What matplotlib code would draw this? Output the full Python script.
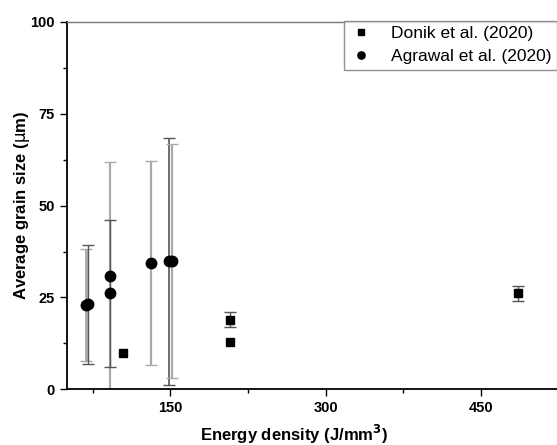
import numpy as np
import matplotlib
matplotlib.use("Agg")
from matplotlib import pyplot as plt
from matplotlib.ticker import MultipleLocator

plt.rcParams['font.family'] = ['Liberation Sans', 'DejaVu Sans']

# Donik et al. (2020)
donik_x = [104.3, 208.0, 208.0, 485.6]
donik_y = [10.0, 19.0, 12.9, 26.1]
donik_err = [0.0, 2.0, 0.0, 2.0]

# Agrawal et al. (2020)
agrawal_x = [68.5, 70.5, 91.3, 91.3, 131.7, 148.4, 152.0]
agrawal_y = [22.9, 23.1, 30.9, 26.1, 34.3, 34.9, 35.0]
agrawal_err = [15.2, 16.3, 31.0, 20.0, 27.7, 33.6, 31.8]
agrawal_shade = ['#aaaaaa', '#555555', '#aaaaaa', '#555555', '#aaaaaa', '#555555', '#aaaaaa']
agrawal_lw = [2.0, 1.0, 1.6, 1.0, 1.6, 1.2, 1.6]

fig = plt.figure(figsize=(5.57, 4.45), dpi=100)
# axes run a bit past the right edge, like the cropped original
ax = fig.add_axes([0.120, 0.125, 0.929, 0.826])

for x, y, e, c, lw in zip(agrawal_x, agrawal_y, agrawal_err, agrawal_shade, agrawal_lw):
    ax.errorbar(x, y, yerr=e, fmt='none', ecolor=c, elinewidth=lw, capsize=4, capthick=1.0, zorder=2)
ax.plot(agrawal_x, agrawal_y, 'o', color='black', markersize=7.5, linestyle='none',
        label='Agrawal et al. (2020)', zorder=3)

for x, y, e in zip(donik_x, donik_y, donik_err):
    if e > 0:
        ax.errorbar(x, y, yerr=e, fmt='none', ecolor='#555555', elinewidth=1.0, capsize=4, capthick=1.0, zorder=2)
ax.plot(donik_x, donik_y, 's', color='black', markersize=5.2, linestyle='none',
        label='Donik et al. (2020)', zorder=3)

ax.set_xlim(50, 550)
ax.set_ylim(0, 100)
ax.xaxis.set_major_locator(MultipleLocator(150))
ax.xaxis.set_minor_locator(MultipleLocator(75))
ax.yaxis.set_major_locator(MultipleLocator(25))
ax.yaxis.set_minor_locator(MultipleLocator(12.5))
ax.tick_params(which='major', direction='out', length=5, width=1, labelsize=10.5)
ax.tick_params(which='minor', direction='out', length=3, width=1)
for lab in ax.get_xticklabels() + ax.get_yticklabels():
    lab.set_fontweight('bold')

ax.spines['left'].set_linewidth(1.3)
ax.spines['bottom'].set_linewidth(1.3)
ax.spines['top'].set_color('#777777')
ax.spines['top'].set_linewidth(1.0)
ax.spines['right'].set_visible(False)

ax.set_xlabel('Energy density (J/mm$^\\mathbf{3}$)', fontsize=12, fontweight='bold')
ax.set_ylabel('Average grain size ($\\mathrm{\\mu}$m)', fontsize=12, fontweight='bold')
ax.xaxis.set_label_coords(0.44, -0.09)
ax.yaxis.set_label_coords(-0.068, 0.5)

handles, labels = ax.get_legend_handles_labels()
leg = fig.legend(handles[::-1], labels[::-1], loc='upper left',
                 bbox_to_anchor=(344 / 557, 1 - 21 / 445), fontsize=12.5,
                 frameon=True, fancybox=False, borderaxespad=0, borderpad=0.3,
                 handletextpad=1.0, labelspacing=0.45, handlelength=1.4,
                 markerscale=0.7)
leg.get_frame().set_edgecolor('#777777')
leg.get_frame().set_linewidth(1.0)

fig.savefig('out.png', dpi=100)
